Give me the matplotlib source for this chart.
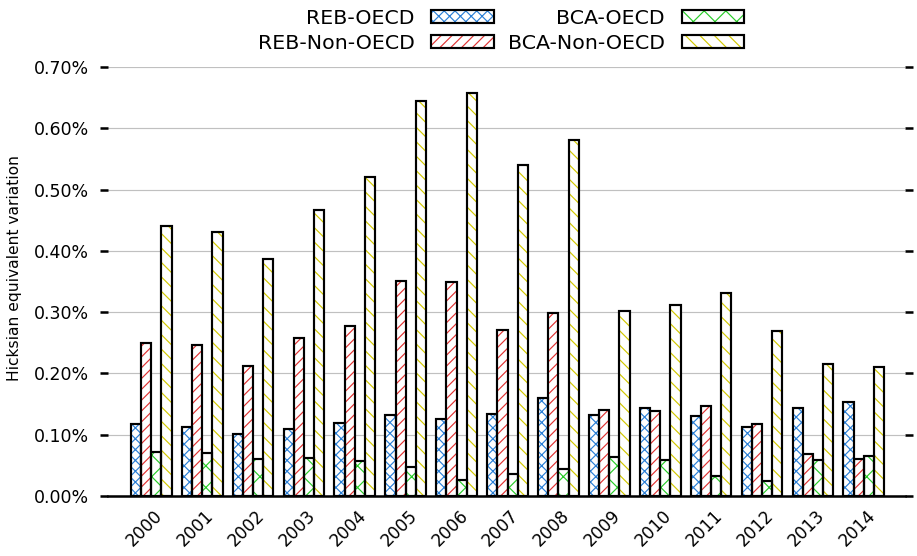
import numpy as np
import matplotlib
matplotlib.use("Agg")
from matplotlib import pyplot as plt
from matplotlib.patches import Patch

# data (percent)
years = [str(y) for y in range(2000, 2015)]
reb_oecd = [0.117, 0.113, 0.101, 0.110, 0.119, 0.132, 0.125, 0.133, 0.160, 0.132, 0.143, 0.131, 0.112, 0.144, 0.153]
reb_non_oecd = [0.249, 0.246, 0.212, 0.258, 0.277, 0.351, 0.350, 0.271, 0.298, 0.141, 0.138, 0.147, 0.118, 0.068, 0.060]
bca_oecd = [0.071, 0.070, 0.060, 0.062, 0.057, 0.047, 0.026, 0.036, 0.044, 0.064, 0.059, 0.032, 0.025, 0.058, 0.066]
bca_non_oecd = [0.440, 0.430, 0.386, 0.466, 0.521, 0.645, 0.658, 0.540, 0.581, 0.302, 0.312, 0.332, 0.270, 0.216, 0.210]

series_names = ["REB-OECD", "REB-Non-OECD", "BCA-OECD", "BCA-Non-OECD"]
series_vals = [reb_oecd, reb_non_oecd, bca_oecd, bca_non_oecd]
hatch_colors = ["#2a7fd6", "#e03232", "#28cc28", "#d2c800"]
hatches = ["xxxx", "////", "xx", "\\\\\\"]

plt.rcParams["hatch.linewidth"] = 0.65
plt.rcParams["font.family"] = "DejaVu Sans"

# dpi 130 makes matplotlib's hatch spacing close to the original
dpi = 130
fig = plt.figure(figsize=(917 / dpi, 556 / dpi), dpi=dpi)
ax = fig.add_axes([108 / 917, 1 - 496 / 556, (905 - 108) / 917, (496 - 67) / 556])

x = np.arange(len(years))
w = 0.2
handles = []
for i, (vals, hc, h) in enumerate(zip(series_vals, hatch_colors, hatches)):
    pos = x + (i - 1.5) * w
    ax.bar(pos, vals, w, color="white", edgecolor=hc, hatch=h, linewidth=0, zorder=2)
    ax.bar(pos, vals, w, fill=False, edgecolor="black", linewidth=1.2, zorder=3)
    handles.append((Patch(facecolor="white", edgecolor=hc, hatch=h, linewidth=0),
                    Patch(fill=False, edgecolor="black", linewidth=1.2)))

ax.set_xlim(-0.85, 14.81)
ax.set_ylim(0, 0.7)
yt = np.arange(0, 0.71, 0.1)
ax.set_yticks(yt)
ax.set_yticklabels(["%.2f%%" % v for v in yt], fontsize=9.6)
# rotated labels sit a bit right of the group centre, as in the original
ax.set_xticks(x + 0.17)
ax.set_xticklabels(years, rotation=45, ha="right", va="center",
                   rotation_mode="anchor", fontsize=9.4)

ax.tick_params(axis="x", length=0, pad=9.5)
ax.tick_params(axis="y", length=4.4, width=1.4, right=True, pad=6)
ax.grid(axis="y", color="#c0c0c0", linewidth=0.65)
ax.set_axisbelow(True)
for s in ["top", "left", "right"]:
    ax.spines[s].set_visible(False)
ax.spines["bottom"].set_linewidth(1.4)

fig.text(15 / 917, 1 - 268 / 556, "Hicksian equivalent variation", rotation=90,
         ha="center", va="center", fontsize=8.6)

leg = fig.legend(handles, series_names, ncol=2, loc="upper center",
                 bbox_to_anchor=(501 / 917, 1 - 9 / 556), frameon=False,
                 markerfirst=False, fontsize=11.35, handlelength=3.05,
                 handleheight=0.6, handletextpad=0.8, columnspacing=0.7,
                 labelspacing=0.3, borderpad=0, borderaxespad=0)
for col in leg._legend_handle_box.get_children():
    col.align = "right"

fig.savefig("out.png", dpi=dpi)
